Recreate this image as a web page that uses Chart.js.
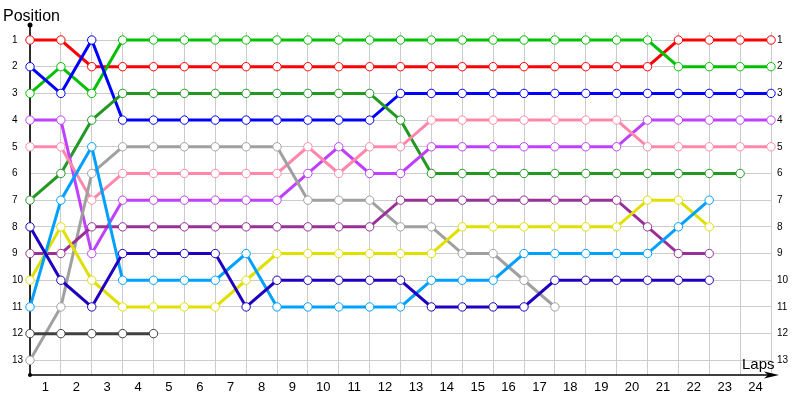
<!DOCTYPE html>
<html>
<head>
<meta charset="utf-8">
<script src="https://cdn.jsdelivr.net/npm/chart.js@4/dist/chart.umd.min.js"></script>
<style>
html,body{margin:0;padding:0;background:#fff;}
#wrap{width:800px;height:400px;position:relative;}
</style>
</head>
<body>
<div id="wrap"><canvas id="c" width="800" height="400"></canvas></div>
<script>
// Lap labels (shown between grid lines) and position tick labels
const lapLabels = ['1','2','3','4','5','6','7','8','9','10','11','12','13','14','15','16','17','18','19','20','21','22','23','24'];
const positionTicks = [1,2,3,4,5,6,7,8,9,10,11,12,13];

// Position per lap (index 0 = start)
const redSeries       = [1,1,2,2,2,2,2,2,2,2,2,2,2,2,2,2,2,2,2,2,2,1,1,1,1];
const greenSeries     = [3,2,3,1,1,1,1,1,1,1,1,1,1,1,1,1,1,1,1,1,1,2,2,2,2];
const blueSeries      = [2,3,1,4,4,4,4,4,4,4,4,4,3,3,3,3,3,3,3,3,3,3,3,3,3];
const darkGreenSeries = [7,6,4,3,3,3,3,3,3,3,3,3,4,6,6,6,6,6,6,6,6,6,6,6];
const magentaSeries   = [4,4,9,7,7,7,7,7,7,6,5,6,6,5,5,5,5,5,5,5,4,4,4,4,4];
const pinkSeries      = [5,5,7,6,6,6,6,6,6,5,6,5,5,4,4,4,4,4,4,4,5,5,5,5,5];
const graySeries      = [13,11,6,5,5,5,5,5,5,7,7,7,8,8,9,9,10,11];
const purpleSeries    = [9,9,8,8,8,8,8,8,8,8,8,8,7,7,7,7,7,7,7,7,8,9,9];
const yellowSeries    = [10,8,10,11,11,11,11,10,9,9,9,9,9,9,8,8,8,8,8,8,7,7,8];
const skySeries       = [11,7,5,10,10,10,10,9,11,11,11,11,11,10,10,10,9,9,9,9,9,8,7];
const navySeries      = [8,10,11,9,9,9,9,11,10,10,10,10,10,11,11,11,11,10,10,10,10,10,10];
const blackSeries     = [12,12,12,12,12];

const seriesList = [
  [blackSeries, '#404040'],
  [navySeries, '#2000c0'],
  [skySeries, '#00a0ff'],
  [yellowSeries, '#e0e000'],
  [purpleSeries, '#983098'],
  [graySeries, '#a0a0a0'],
  [pinkSeries, '#ff88aa'],
  [magentaSeries, '#c040ff'],
  [darkGreenSeries, '#229922'],
  [blueSeries, '#0000ff'],
  [greenSeries, '#00c000'],
  [redSeries, '#ff0000']
];

const datasets = seriesList.map(([vals, col]) => ({
  data: vals.map((v, i) => ({x: i, y: v})),
  borderColor: col,
  backgroundColor: col,
  borderWidth: 3,
  pointRadius: 4.2,
  pointBorderWidth: 1,
  pointBorderColor: col,
  pointBackgroundColor: '#ffffff',
  tension: 0,
  fill: false,
  clip: false
}));

const axesPlugin = {
  id: 'axesPlugin',
  beforeDatasetsDraw(chart) {
    const ctx = chart.ctx;
    const xs = chart.scales.x;
    const x0 = xs.getPixelForValue(0);
    const yb = chart.chartArea.bottom;
    ctx.save();
    ctx.strokeStyle = '#000';
    ctx.fillStyle = '#000';
    ctx.lineWidth = 1.6;
    ctx.beginPath();
    ctx.moveTo(x0, 25);
    ctx.lineTo(x0, yb);
    ctx.lineTo(770, yb);
    ctx.stroke();
    ctx.beginPath();
    ctx.moveTo(779, yb);
    ctx.lineTo(764, yb - 3.5);
    ctx.lineTo(768, yb);
    ctx.lineTo(764, yb + 3.5);
    ctx.closePath();
    ctx.fill();
    ctx.beginPath();
    ctx.arc(x0, 25, 2.5, 0, Math.PI * 2);
    ctx.fill();
    ctx.beginPath();
    ctx.arc(x0, yb, 2, 0, Math.PI * 2);
    ctx.fill();
    ctx.restore();
  },
  afterDraw(chart) {
    const ctx = chart.ctx;
    ctx.save();
    ctx.fillStyle = '#000';
    ctx.font = '16px "Liberation Sans", Arial, sans-serif';
    ctx.textBaseline = 'alphabetic';
    ctx.textAlign = 'left';
    ctx.fillText('Position', 3, 21);
    ctx.font = '15px "Liberation Sans", Arial, sans-serif';
    ctx.fillText('Laps', 742, 369);
    ctx.restore();
  }
};

new Chart(document.getElementById('c'), {
  type: 'line',
  data: { datasets },
  plugins: [axesPlugin],
  options: {
    responsive: false,
    animation: false,
    events: [],
    layout: { padding: { left: 12, top: 32, right: 0, bottom: 0 } },
    plugins: { legend: { display: false }, tooltip: { enabled: false } },
    scales: {
      x: {
        type: 'linear',
        position: 'bottom',
        min: 0,
        max: 24,
        afterBuildTicks: s => { s.ticks = lapLabels.map((l, i) => ({ value: i + 0.5 })); },
        afterFit: s => { s.height = 25; },
        grid: { color: '#cccccc', lineWidth: 1, offset: true, drawTicks: false },
        border: { display: false },
        ticks: {
          padding: 5,
          maxRotation: 0,
          autoSkip: false,
          color: '#000',
          font: { family: '"Liberation Sans", Arial, sans-serif', size: 13 },
          callback: (v, i) => lapLabels[i]
        }
      },
      y: {
        type: 'linear',
        position: 'left',
        reverse: true,
        min: 0.7,
        max: 13.55,
        afterBuildTicks: s => { s.ticks = positionTicks.map(v => ({ value: v })); },
        afterFit: s => { s.width = 18; },
        grid: { color: '#cccccc', lineWidth: 1, drawTicks: false },
        border: { display: false },
        ticks: {
          crossAlign: 'far',
          padding: 3,
          autoSkip: false,
          color: '#000',
          font: { family: '"Liberation Sans", Arial, sans-serif', size: 10 },
          callback: (v, i) => String(positionTicks[i])
        }
      },
      y2: {
        type: 'linear',
        position: 'right',
        reverse: true,
        min: 0.7,
        max: 13.55,
        afterBuildTicks: s => { s.ticks = positionTicks.map(v => ({ value: v })); },
        afterFit: s => { s.width = 29; },
        grid: { display: false, drawTicks: false },
        border: { display: false },
        ticks: {
          crossAlign: 'near',
          padding: 6,
          autoSkip: false,
          color: '#000',
          font: { family: '"Liberation Sans", Arial, sans-serif', size: 10 },
          callback: (v, i) => String(positionTicks[i])
        }
      }
    }
  }
});
</script>
</body>
</html>
